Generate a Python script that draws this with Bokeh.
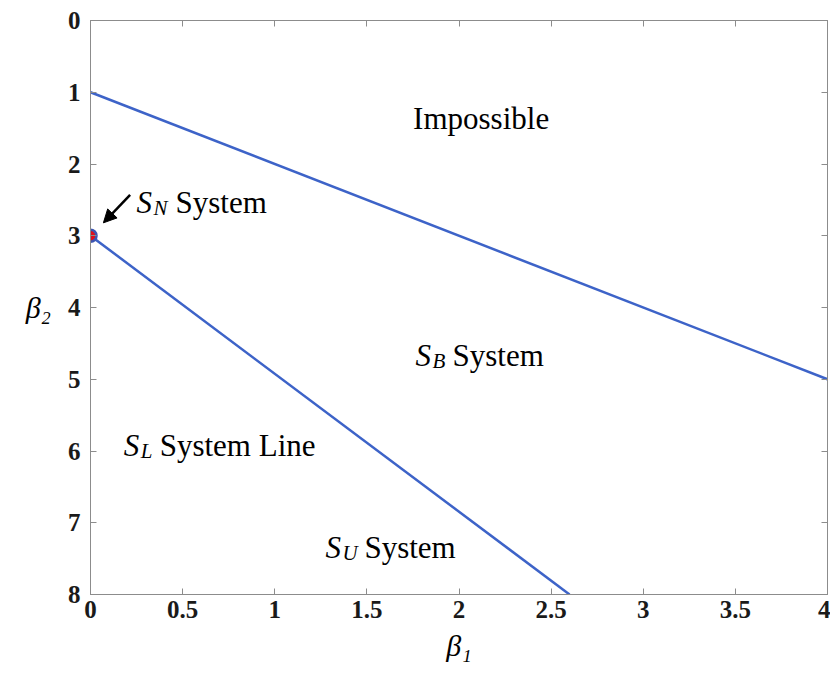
from bokeh.plotting import figure
from bokeh.models import (Range1d, FixedTicker, LinearAxis, Label, Arrow, NormalHead,
                          CustomJSTickFormatter)
from bokeh.embed import file_html
from bokeh.resources import INLINE

# ---- data ----
x_ticks = [0, 0.5, 1, 1.5, 2, 2.5, 3, 3.5, 4]
y_ticks = [0, 1, 2, 3, 4, 5, 6, 7, 8]
upper_b1 = [0, 4]          # beta2 = beta1 + 1 boundary
upper_b2 = [1, 5]
lower_b1 = [0, 2.6]        # lognormal (S_L) line
lower_b2 = [3, 8]
normal_b1 = [0]            # S_N point
normal_b2 = [3]

LINE = "#3d63c8"
SERIF = "Liberation Serif"

p = figure(width=830, height=669, output_backend="svg", toolbar_location=None,
           x_range=Range1d(0, 4), y_range=Range1d(8, 0),
           min_border_left=90, min_border_top=20, min_border_right=3, min_border_bottom=75,
           x_axis_location=None, y_axis_location=None)
p.grid.visible = False
p.outline_line_color = "#8c8c8c"
p.background_fill_color = "white"
p.border_fill_color = "white"

fmt = CustomJSTickFormatter(code="return String(tick);")
blank = CustomJSTickFormatter(code="return '';")

def style_axis(ax):
    ax.axis_line_color = "#8c8c8c"
    ax.major_tick_line_color = "#8c8c8c"
    ax.major_tick_in = 6
    ax.major_tick_out = 0
    ax.minor_tick_line_color = None
    ax.major_label_text_font = SERIF
    ax.major_label_text_font_style = "bold"
    ax.major_label_text_font_size = "25px"
    ax.major_label_text_color = "#1a1a1a"
    ax.major_label_standoff = 6
    ax.axis_label_text_font = SERIF
    ax.axis_label_text_font_style = "italic"
    ax.axis_label_text_font_size = "30px"
    ax.axis_label_text_color = "black"

xb = LinearAxis(ticker=FixedTicker(ticks=x_ticks), formatter=fmt, axis_label="β₁")
style_axis(xb)
xb.axis_label_standoff = 8
p.add_layout(xb, "below")
yl = LinearAxis(ticker=FixedTicker(ticks=y_ticks), formatter=fmt, axis_label="β₂")
style_axis(yl)
yl.major_label_standoff = 10
yl.axis_label_standoff = 14
try:
    yl.axis_label_orientation = "horizontal"
except Exception:
    pass
p.add_layout(yl, "left")
xt = LinearAxis(ticker=FixedTicker(ticks=x_ticks), formatter=blank)
style_axis(xt)
xt.major_label_standoff = 0
p.add_layout(xt, "above")
yr = LinearAxis(ticker=FixedTicker(ticks=y_ticks), formatter=blank)
style_axis(yr)
yr.major_label_standoff = 0
p.add_layout(yr, "right")

p.line(upper_b1, upper_b2, line_color=LINE, line_width=2.5)
p.line(lower_b1, lower_b2, line_color=LINE, line_width=2.5)
p.scatter(normal_b1, normal_b2, size=12, fill_color="#e0101a", line_color="#3d55b0", line_width=2.5)

p.add_layout(Arrow(end=NormalHead(size=13, fill_color="black", line_color="black"),
                   x_start=0.215, y_start=2.43, x_end=0.07, y_end=2.82,
                   line_color="black", line_width=2.5))

def lab(x, y, text, size="31px", style="normal", xoff=0, align="left"):
    p.add_layout(Label(x=x, y=y, text=text, x_offset=xoff, text_font=SERIF,
                       text_font_size=size, text_font_style=style, text_color="black",
                       text_align=align, text_baseline="alphabetic"))

SUBW = {"N": 15, "B": 13, "L": 12, "U": 15}

def system_label(x, y, sub, rest):
    lab(x, y, "S", style="italic")
    lab(x, y + 0.075, sub, size="21px", style="italic", xoff=17)
    lab(x, y, rest, xoff=17 + SUBW[sub] + 7)

lab(2.12, 1.37, "Impossible", align="center")
system_label(0.25, 2.54, "N", "System")
system_label(1.764, 4.67, "B", "System")
system_label(0.18, 5.92, "L", "System Line")
system_label(1.275, 7.34, "U", "System")

open("out.html", "w").write(file_html(p, INLINE))
